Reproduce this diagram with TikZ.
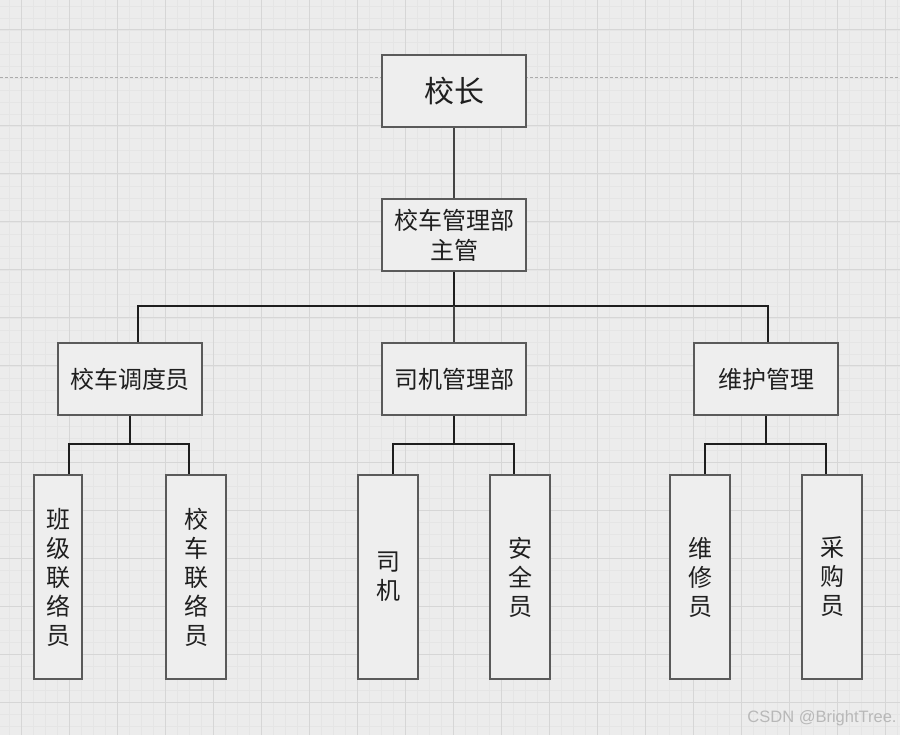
\documentclass[tikz,border=0pt]{standalone}
\usepackage{fontspec}
\newfontfamily\cjk{Noto Sans CJK SC}
\newfontfamily\wmfont{Liberation Sans}
\definecolor{bg}{HTML}{ECECEC}
\definecolor{gridminor}{HTML}{E5E5E5}
\definecolor{gridmajor}{HTML}{D6D6D6}
\definecolor{boxfill}{HTML}{EEEEEE}
\definecolor{boxline}{HTML}{5A5A5A}
\definecolor{treeline}{HTML}{1E1E1E}
\definecolor{thinline}{HTML}{444444}
\definecolor{dashline}{HTML}{ABABAB}
\definecolor{wmark}{HTML}{B8B8B8}
\begin{document}
\begin{tikzpicture}[x=1pt,y=-1pt,
  box/.style={draw=boxline, line width=1.6pt, fill=boxfill, inner sep=0pt,
    font=\cjk\fontsize{24}{30}\selectfont, align=center, text=black!88},
  midbox/.style={box, minimum width=144pt, minimum height=72pt},
  leafbox/.style={box, minimum height=204pt, font=\cjk\fontsize{24}{29}\selectfont},
  tree/.style={draw=treeline, line width=1.9pt},
  thinconn/.style={draw=thinline, line width=1.2pt}
]
\useasboundingbox (0,0) rectangle (900,735);
\fill[bg] (0,0) rectangle (900,735);
% grid
\foreach \x in {9,21,...,897} \draw[gridminor, line width=0.8pt] (\x,0) -- (\x,735);
\foreach \y in {6,18,...,734} \draw[gridminor, line width=0.8pt] (0,\y) -- (900,\y);
\foreach \x in {21,69,...,885} \draw[gridmajor, line width=1pt] (\x,0) -- (\x,735);
\foreach \y in {30,126,174,...,702} \draw[gridmajor, line width=1pt] (0,\y) -- (900,\y);
\draw[dashline, line width=1pt, dash pattern=on 3pt off 2pt] (0,78) -- (900,78);

% nodes
\node[midbox, font=\cjk\fontsize{30}{36}\selectfont] (xz) at (454,91) {校长};
\node[midbox] (zg) at (454,235) {校车管理部\\主管};
\node[midbox] (dd) at (130,379) {校车调度员};
\node[midbox] (sj) at (454,379) {司机管理部};
\node[midbox] (wh) at (766,379) {维护管理};

\node[leafbox, minimum width=48pt] (bj) at (58,577) {班\\级\\联\\络\\员};
\node[leafbox, minimum width=60pt] (xc) at (196,577) {校\\车\\联\\络\\员};
\node[leafbox, minimum width=60pt] (siji) at (388,577) {司\\机};
\node[leafbox, minimum width=60pt] (aq) at (520,577) {安\\全\\员};
\node[leafbox, minimum width=60pt] (wx) at (700,577) {维\\修\\员};
\node[leafbox, minimum width=60pt] (cg) at (832,577) {采\\购\\员};

% junction coordinates
\coordinate (busL) at (138,306);
\coordinate (busR) at (768,306);
\coordinate (d1) at (69,444);
\coordinate (d2) at (189,444);
\coordinate (s1) at (393,444);
\coordinate (s2) at (514,444);
\coordinate (w1) at (705,444);
\coordinate (w2) at (826,444);

% connectors
\draw[thinconn] (xz.south) -- (zg.north);
\draw[tree] (zg.south) -- (zg.south |- busL);
\draw[tree] (dd.north -| busL) -- (busL) -- (busR) -- (wh.north -| busR);
\draw[thinconn] (zg.south |- busL) -- (sj.north);

\draw[tree] (dd.south) -- (dd.south |- d1);
\draw[tree] (bj.north -| d1) -- (d1) -- (d2) -- (xc.north -| d2);
\draw[tree] (sj.south) -- (sj.south |- s1);
\draw[tree] (siji.north -| s1) -- (s1) -- (s2) -- (aq.north -| s2);
\draw[tree] (wh.south) -- (wh.south |- w1);
\draw[tree] (wx.north -| w1) -- (w1) -- (w2) -- (cg.north -| w2);

% watermark
\node[text=wmark, font=\wmfont\fontsize{16.5}{18}\selectfont, inner sep=0pt] (wm) at (822,718) {CSDN @BrightTree.};
\end{tikzpicture}
\end{document}
